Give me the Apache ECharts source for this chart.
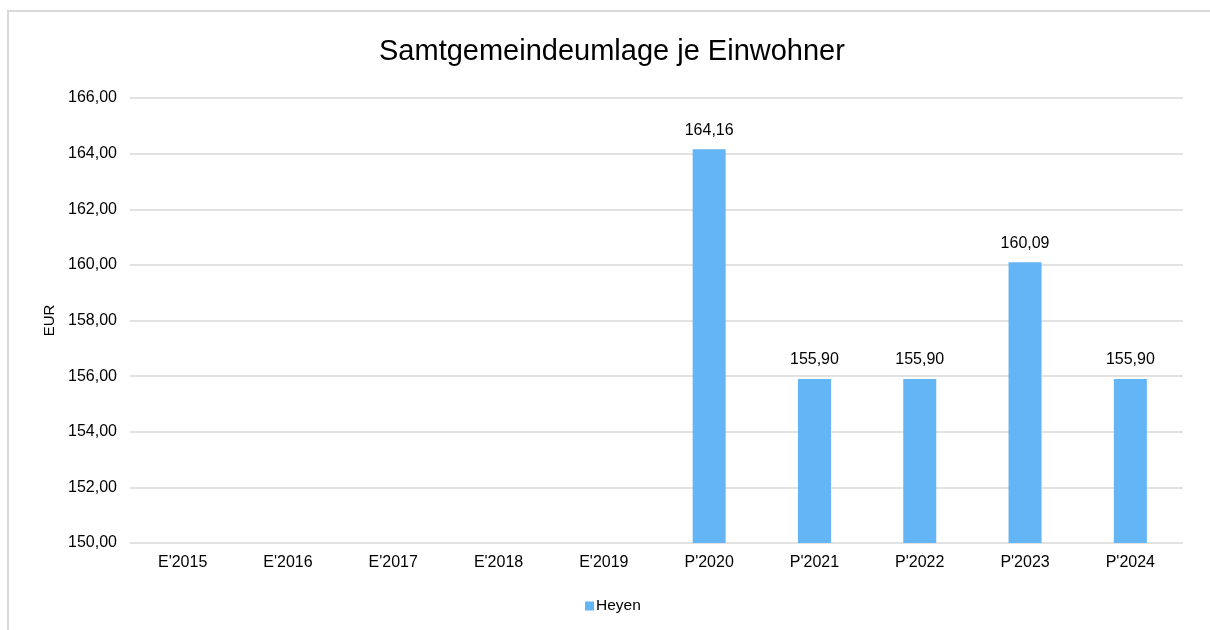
<!DOCTYPE html>
<html>
<head>
<meta charset="utf-8">
<script src="https://cdn.jsdelivr.net/npm/echarts@6/dist/echarts.min.js"></script>
<style>
  html, body { margin: 0; padding: 0; background: #fff; }
  #chart { width: 1210px; height: 630px; }
</style>
</head>
<body>
<div id="chart"></div>
<script>
const categories = ["E'2015", "E'2016", "E'2017", "E'2018", "E'2019", "P'2020", "P'2021", "P'2022", "P'2023", "P'2024"];
const heyenValues = [null, null, null, null, null, 164.16, 155.90, 155.90, 160.09, 155.90];
const yMin = 150;
const yMax = 166;
const yStep = 2;

const fmt = (v) => Number(v).toFixed(2).replace(".", ",");
const font = "Liberation Sans, Arial, sans-serif";

const chart = echarts.init(document.getElementById("chart"));
chart.setOption({
    backgroundColor: "#fff",
    animation: false,
    graphic: [
        {
            type: "rect",
            shape: { x: 8, y: 11, width: 1240, height: 660 },
            style: { fill: "none", stroke: "#d9d9d9", lineWidth: 2 },
            silent: true,
        },
    ],
    title: {
        text: "Samtgemeindeumlage je Einwohner",
        left: 374,
        top: 32,
        textStyle: { fontFamily: font, fontSize: 29, fontWeight: "normal", color: "#000" },
    },
    legend: {
        bottom: 11,
        left: 580,
        itemWidth: 9,
        itemHeight: 9,
        itemGap: 4,
        icon: "rect",
        textStyle: { fontFamily: font, fontSize: 15.5, color: "#000", padding: [0, 0, 0, -3] },
        data: ["Heyen"],
    },
    grid: { left: 130, right: 27, top: 98, bottom: 87 },
    xAxis: {
        type: "category",
        data: categories,
        axisLine: { show: false },
        axisTick: { show: false },
        axisLabel: { fontFamily: font, fontSize: 16, color: "#000", margin: 12 },
    },
    yAxis: {
        type: "value",
        min: yMin,
        max: yMax,
        interval: yStep,
        name: "EUR",
        nameLocation: "middle",
        nameGap: 70,
        nameTextStyle: { fontFamily: font, fontSize: 15, color: "#000" },
        axisLine: { show: false },
        axisTick: { show: false },
        splitLine: { lineStyle: { color: "#d9d9d9", width: 1.5 } },
        axisLabel: { fontFamily: font, fontSize: 16, color: "#000", margin: 13, formatter: fmt },
    },
    series: [
        {
            name: "Heyen",
            type: "bar",
            data: heyenValues,
            barWidth: 33,
            itemStyle: { color: "#63b5f5" },
            label: {
                show: true,
                position: "top",
                distance: 11,
                fontFamily: font,
                fontSize: 16,
                color: "#000",
                formatter: (p) => fmt(p.value),
            },
        },
    ],
});
</script>
</body>
</html>
